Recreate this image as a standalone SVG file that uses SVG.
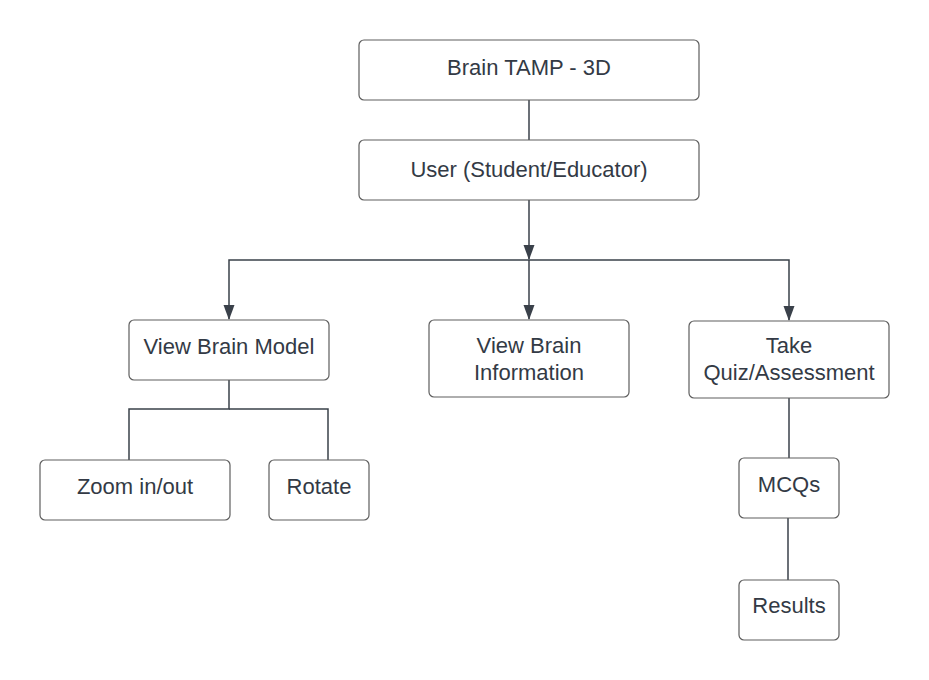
<svg xmlns="http://www.w3.org/2000/svg" width="929" height="680" viewBox="0 0 929 680">
<style>
.box{fill:#ffffff;stroke:#5e5e5e;stroke-width:1.2}
.lbl{font-family:"Liberation Sans",Arial,sans-serif;font-size:22px;fill:#333a45;text-anchor:middle}
.con{fill:none;stroke:#3a414a;stroke-width:1.5}
</style>
<defs>
<marker id="arr" markerUnits="userSpaceOnUse" markerWidth="15" markerHeight="12" refX="14" refY="5.5" orient="auto" viewBox="0 0 15 11">
<path d="M0,0 L15,5.5 L0,11 z" fill="#3a414a"/>
</marker>
</defs>
<rect width="929" height="680" fill="#ffffff"/>
<g id="connectors">
<path class="con" d="M529,100 V140"/>
<path class="con" d="M529,200 V259" marker-end="url(#arr)"/>
<path class="con" d="M529,260 H229 V319" marker-end="url(#arr)"/>
<path class="con" d="M529,260 V319" marker-end="url(#arr)"/>
<path class="con" d="M529,260 H789 V320" marker-end="url(#arr)"/>
<path class="con" d="M229,380 V409 H129 V460"/>
<path class="con" d="M229,409 H328 V460"/>
<path class="con" d="M789,398 V458"/>
<path class="con" d="M788,518 V580"/>
</g>
<g id="brain-tamp">
<rect class="box" x="359" y="40" width="340" height="60" rx="5"/>
<text class="lbl" x="529" y="75">Brain TAMP - 3D</text>
</g>
<g id="user">
<rect class="box" x="359" y="140" width="340" height="60" rx="5"/>
<text class="lbl" x="529" y="177">User (Student/Educator)</text>
</g>
<g id="view-brain-model">
<rect class="box" x="129" y="320" width="200" height="60" rx="5"/>
<text class="lbl" x="229" y="354">View Brain Model</text>
</g>
<g id="view-brain-information">
<rect class="box" x="429" y="320" width="200" height="77" rx="5"/>
<text class="lbl" x="529" y="353">View Brain</text>
<text class="lbl" x="529" y="380">Information</text>
</g>
<g id="take-quiz">
<rect class="box" x="689" y="321" width="200" height="77" rx="5"/>
<text class="lbl" x="789" y="353">Take</text>
<text class="lbl" x="789" y="380">Quiz/Assessment</text>
</g>
<g id="zoom">
<rect class="box" x="40" y="460" width="190" height="60" rx="5"/>
<text class="lbl" x="135" y="494">Zoom in/out</text>
</g>
<g id="rotate">
<rect class="box" x="269" y="460" width="100" height="60" rx="5"/>
<text class="lbl" x="319" y="494">Rotate</text>
</g>
<g id="mcqs">
<rect class="box" x="739" y="458" width="100" height="60" rx="5"/>
<text class="lbl" x="789" y="492">MCQs</text>
</g>
<g id="results">
<rect class="box" x="739" y="580" width="100" height="60" rx="5"/>
<text class="lbl" x="789" y="613">Results</text>
</g>
</svg>
